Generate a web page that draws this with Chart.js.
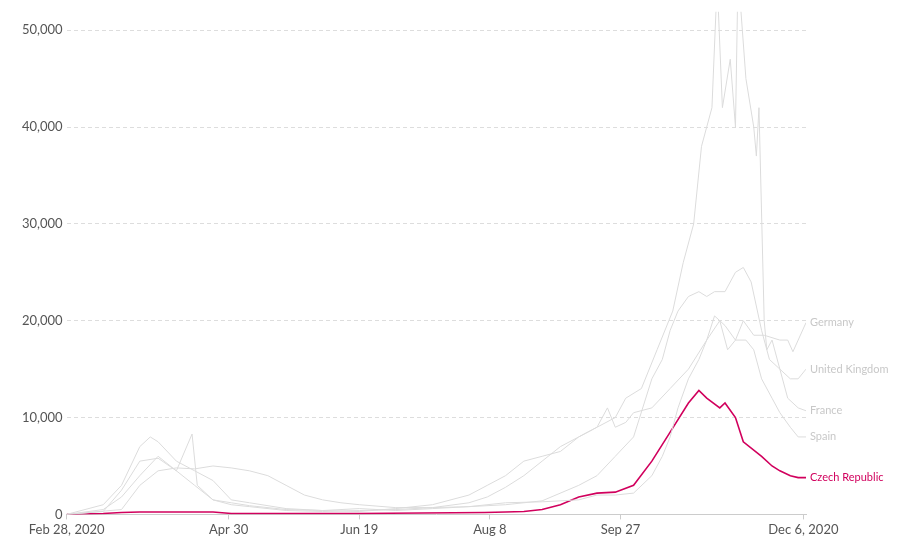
<!DOCTYPE html>
<html><head><meta charset="utf-8">
<script src="https://cdn.jsdelivr.net/npm/chart.js@4"></script>
<style>html,body{margin:0;background:#fff}#w{width:906px;height:554px}</style>
</head><body><div id="w"><canvas id="c"></canvas></div>
<script>
const tickDays = [0,62,112,162,212,282];
const tickLabels = ["Feb 28, 2020","Apr 30","Jun 19","Aug 8","Sep 27","Dec 6, 2020"];
const franceDays = [0,14,21,28,35,42,48,50,56,63,70,84,98,112,126,140,154,161,168,175,182,189,196,203,210,214,220,226,232,236,240,243,247,249,251,254,256,257,260,263,264,265,267,268,270,273,276,280,283];
const franceVals = [0,500,1800,4000,6000,4500,8300,3000,1500,1000,800,400,300,400,500,700,1200,1800,2800,4000,5500,7000,8000,9000,10000,12000,13000,17000,21000,26000,30000,38000,42000,55000,42000,47000,40000,56000,45000,40000,37000,42000,20000,17000,18000,15000,12000,11000,10700];
const germanyDays = [0,14,21,28,35,42,49,56,63,70,84,98,112,126,140,154,168,182,196,203,210,217,224,228,231,234,238,242,245,248,252,256,259,263,267,273,276,278,280,283];
const germanyVals = [0,300,2500,5500,5800,4500,3000,1500,1200,900,500,400,600,400,600,800,1200,1300,1500,2000,2000,2200,4000,6000,8000,11000,14000,16000,18000,20500,19500,18000,20000,18500,18500,18000,18000,16800,18000,19800];
const ukDays = [0,21,28,35,42,49,56,63,70,77,84,91,98,105,112,126,140,154,168,182,196,203,210,217,224,228,231,234,238,242,245,248,252,256,259,262,266,269,273,277,280,283];
const ukVals = [0,500,3000,4500,4800,4700,5000,4800,4500,4000,3000,2000,1500,1200,1000,700,700,800,1000,1400,3000,4000,6000,8000,14000,16000,19000,21000,22500,23000,22500,23000,23000,25000,25500,24000,19000,16000,15000,14000,14000,15000];
const spainDays = [0,14,21,28,32,35,42,49,56,63,70,84,98,112,126,140,154,161,168,175,182,189,196,203,207,210,214,217,224,231,238,245,250,253,256,260,263,266,270,273,277,280,283];
const spainVals = [0,1000,3000,7000,8000,7500,5500,4500,3500,1500,1200,600,400,300,600,1000,2000,3000,4000,5500,6000,6500,8000,9000,11000,9000,9500,10500,11000,13000,15000,18000,20000,17000,18000,18000,17000,14000,12000,10500,9000,8000,8000];
const czDays = [0,14,21,28,56,63,112,160,168,175,182,189,196,203,210,217,224,231,238,242,245,250,252,256,259,266,270,273,277,280,283];
const czVals = [0,100,200,250,250,100,100,200,250,300,500,1000,1800,2200,2300,3000,5500,8500,11500,12800,12000,11000,11500,10000,7500,6000,5000,4500,4000,3800,3800];
const names = ["France","Germany","United Kingdom","Spain","Czech Republic"];
const pts=(d,v)=>d.map((x,i)=>({x:x,y:v[i]}));
const grey="#dcdcdc", red="#d1005d";
const mk=(n,d,v,c,w)=>({label:n,data:pts(d,v),borderColor:c,borderWidth:w,pointRadius:0,tension:0,fill:false});
const labelPlugin={id:"lbl",afterDatasetsDraw(ch){const {ctx,chartArea,scales}=ch;ctx.save();ctx.font="11px Lato";ctx.textBaseline="middle";
 ch.data.datasets.forEach(ds=>{const last=ds.data[ds.data.length-1];ctx.fillStyle=ds.borderColor===red?red:"#c8c8c8";
 ctx.fillText(ds.label,chartArea.right+4,scales.y.getPixelForValue(last.y));});ctx.restore();}};
new Chart(document.getElementById("c"),{type:"line",
 data:{datasets:[mk(names[0],franceDays,franceVals,grey,1),mk(names[1],germanyDays,germanyVals,grey,1),mk(names[2],ukDays,ukVals,grey,1),mk(names[3],spainDays,spainVals,grey,1),mk(names[4],czDays,czVals,red,1.6)]},
 options:{responsive:true,maintainAspectRatio:false,animation:false,layout:{padding:{top:0,right:100,bottom:13,left:18}},
 plugins:{legend:{display:false},tooltip:{enabled:false}},
 scales:{x:{type:"linear",min:0,max:283,afterBuildTicks(a){a.ticks=tickDays.map(v=>({value:v}));},
   ticks:{autoSkip:false,maxRotation:0,color:"#555",font:{family:"Lato",size:13},callback:(v)=>tickLabels[tickDays.indexOf(v)]},
   grid:{display:true,drawOnChartArea:false,drawTicks:true,tickLength:5,color:"#ccc"},border:{color:"#ccc"}},
  y:{min:0,max:51900,afterBuildTicks(a){a.ticks=[0,10000,20000,30000,40000,50000].map(v=>({value:v}));},
   ticks:{color:"#555",font:{family:"Lato",size:13},padding:4,callback:v=>v.toLocaleString("en-US")},
   grid:{color:"#ddd",drawTicks:false},border:{display:false,dash:[4,3]}}}},
 plugins:[labelPlugin]});
</script></body></html>
